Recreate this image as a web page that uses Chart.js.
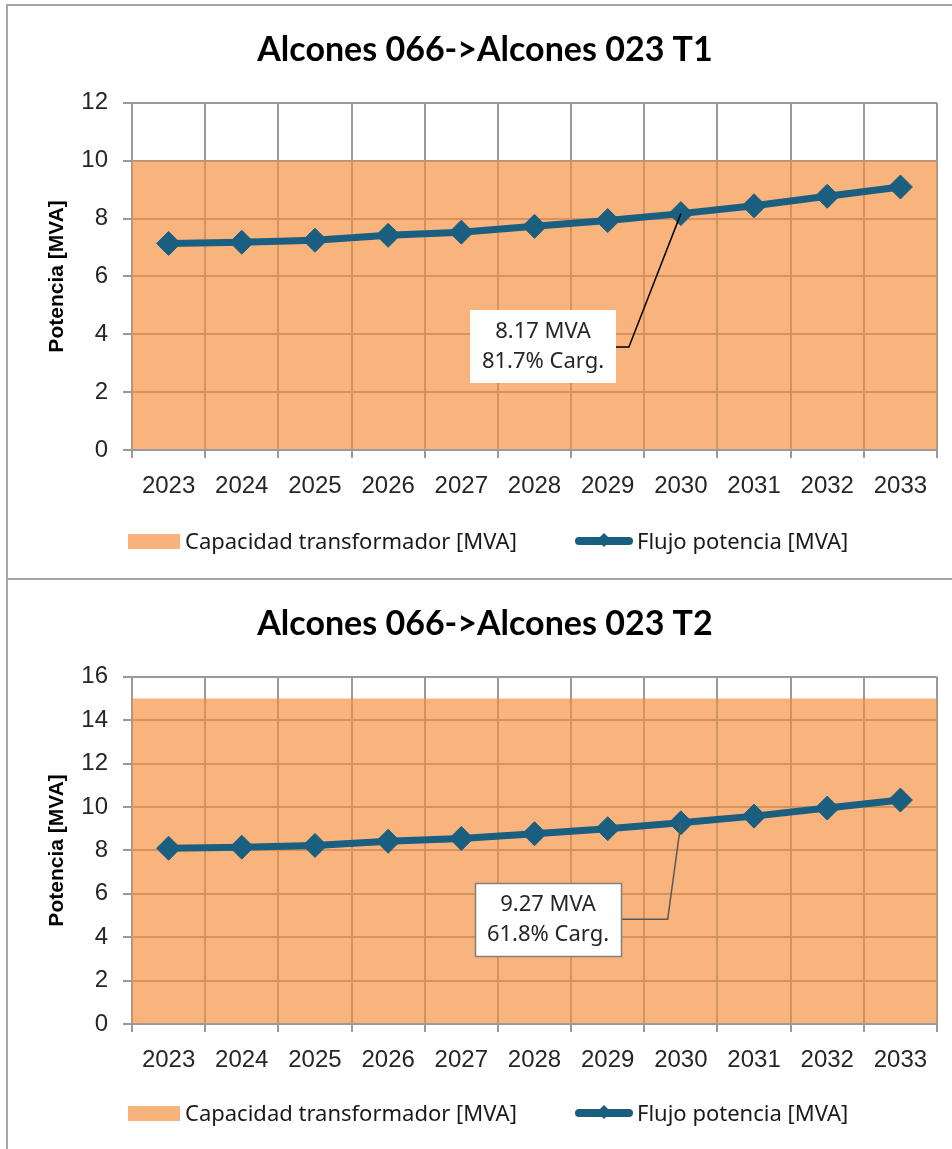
<!DOCTYPE html>
<html>
<head>
<meta charset="utf-8">
<title>Alcones 066->Alcones 023</title>
<script src="https://cdn.jsdelivr.net/npm/chart.js@4.4.1/dist/chart.umd.min.js"></script>
<style>
  html, body { margin: 0; padding: 0; background: #fff; width: 952px; height: 1149px; overflow: hidden; }
  .panel { position: absolute; left: 6px; width: 1000px; height: 572px; border: 2px solid #a6a6a6; background: #fff; overflow: hidden; }
  #panel1 { top: 4px; }
  #panel2 { top: 580px; border-top: none; }
  .panel canvas { position: absolute; left: 0; top: 0; }
  .lg-item { position: absolute; font: 22px "Noto Sans", sans-serif; color: #1a1a1a; white-space: nowrap; line-height: 30px; height: 30px; }
  .sw-bar { position: absolute; width: 52px; height: 15px; background: #f8b37c; }
  .sw-line { position: absolute; width: 58px; height: 8px; border-radius: 4px; background: #1a5e80; }
  .sw-line i { position: absolute; left: 24px; top: -2px; width: 10px; height: 10px; background: #1a5e80; transform: rotate(45deg); }
</style>
</head>
<body>
<div class="panel" id="panel1"><canvas id="chartT1" width="944" height="572"></canvas></div>
<div class="panel" id="panel2"><canvas id="chartT2" width="944" height="572"></canvas></div>
<script>
(function () {
  // ---------- data ----------
  const YEARS = ["2023", "2024", "2025", "2026", "2027", "2028", "2029", "2030", "2031", "2032", "2033"];

  const FLOW_T1 = [7.14, 7.18, 7.25, 7.42, 7.53, 7.73, 7.93, 8.17, 8.44, 8.77, 9.09];
  const CAP_T1 = [10, 10, 10, 10, 10, 10, 10, 10, 10, 10, 10];
  const Y_TICKS_T1 = [0, 2, 4, 6, 8, 10, 12];

  const FLOW_T2 = [8.10, 8.15, 8.23, 8.42, 8.55, 8.77, 9.00, 9.27, 9.58, 9.95, 10.32];
  const CAP_T2 = [15, 15, 15, 15, 15, 15, 15, 15, 15, 15, 15];
  const Y_TICKS_T2 = [0, 2, 4, 6, 8, 10, 12, 14, 16];

  const TITLE_T1 = "Alcones 066->Alcones 023 T1";
  const TITLE_T2 = "Alcones 066->Alcones 023 T2";
  const CAP_LABEL = "Capacidad transformador [MVA]";
  const FLOW_LABEL = "Flujo potencia [MVA]";
  const Y_TITLE = "Potencia [MVA]";

  // ---------- styles ----------
  const LINE_COLOR = "#1a5e80";
  const AREA_COLOR = "rgba(245,143,60,0.67)";
  const GRID_COLOR = "#9a9a9a";
  const TICK_FONT = { family: "'Liberation Sans', Arial, sans-serif", size: 24 };

  // callout box: value label with leader line to one point
  const calloutPlugin = {
    id: "callout",
    afterDatasetsDraw(chart, args, opts) {
      if (!opts || opts.index == null) return;
      const ctx = chart.ctx;
      const xs = chart.scales.x;
      const ys = chart.scales.y;
      const flow = chart.data.datasets[0].data;
      const cap = chart.data.datasets[1].data;
      const v = flow[opts.index];
      const lines = [
        v.toFixed(2) + " MVA",
        ((v / cap[opts.index]) * 100).toFixed(1) + "% Carg.",
      ];
      const px = xs.getPixelForValue(opts.index);
      const py = ys.getPixelForValue(v);
      const cx = xs.getPixelForValue(opts.boxX);
      const cy = ys.getPixelForValue(opts.boxY);
      const ex = xs.getPixelForValue(opts.elbowX);

      ctx.save();
      ctx.font = "22px 'Noto Sans', sans-serif";
      const tw = Math.max(...lines.map((t) => ctx.measureText(t).width));
      const w = Math.round(tw + 24);
      const lh = 30;
      const h = lh * 2 + 13;
      const left = Math.round(cx - w / 2);
      const top = Math.round(cy - h / 2);

      ctx.strokeStyle = opts.lineColor;
      ctx.lineWidth = 1.5;
      ctx.beginPath();
      ctx.moveTo(left + w, cy);
      ctx.lineTo(ex, cy);
      ctx.lineTo(px, py);
      ctx.stroke();

      ctx.fillStyle = "#fff";
      ctx.fillRect(left, top, w, h);
      if (opts.border) {
        ctx.strokeStyle = "#7f7f7f";
        ctx.lineWidth = 1.5;
        ctx.strokeRect(left + 0.5, top + 0.5, w, h);
      }
      ctx.fillStyle = "#262626";
      ctx.textAlign = "center";
      ctx.textBaseline = "middle";
      ctx.fillText(lines[0], left + w / 2, top + h / 2 - lh / 2);
      ctx.fillText(lines[1], left + w / 2, top + h / 2 + lh / 2);
      ctx.restore();
    },
  };

  function makeChart(canvasId, title, flow, cap, yTicks, callout) {
    const canvas = document.getElementById(canvasId);
    return new Chart(canvas, {
      type: "bar",
      data: {
        labels: YEARS,
        datasets: [
          {
            type: "line",
            label: FLOW_LABEL,
            data: flow,
            borderColor: LINE_COLOR,
            backgroundColor: LINE_COLOR,
            borderWidth: 7,
            pointStyle: "rectRot",
            pointRadius: 12,
            pointBorderWidth: 1,
            pointBackgroundColor: LINE_COLOR,
            pointBorderColor: LINE_COLOR,
            tension: 0,
            fill: false,
            order: 0,
          },
          {
            type: "bar",
            label: CAP_LABEL,
            data: cap,
            backgroundColor: AREA_COLOR,
            borderWidth: 0,
            categoryPercentage: 1,
            barPercentage: 1,
            inflateAmount: 0,
            order: 1,
          },
        ],
      },
      options: {
        responsive: false,
        animation: false,
        events: [],
        layout: { padding: { top: 0, left: 25, right: 15, bottom: 68 } },
        scales: {
          x: {
            offset: true,
            afterFit: function (s) { s.height = 60; },
            grid: {
              offset: true,
              color: GRID_COLOR,
              lineWidth: 2,
              drawTicks: true,
              tickLength: 8,
            },
            border: { color: GRID_COLOR, width: 2 },
            ticks: { color: "#262626", font: TICK_FONT, padding: 14, maxRotation: 0 },
          },
          y: {
            min: yTicks[0],
            max: yTicks[yTicks.length - 1],
            afterFit: function (s) { s.width = 99; },
            grid: { color: GRID_COLOR, lineWidth: 2, tickLength: 9 },
            border: { color: GRID_COLOR, width: 2 },
            ticks: {
              stepSize: yTicks[1] - yTicks[0],
              color: "#262626",
              font: TICK_FONT,
              padding: 15,
            },
            title: {
              display: true,
              text: Y_TITLE,
              color: "#000",
              font: { family: "'Liberation Sans', Arial, sans-serif", size: 21, weight: "bold" },
              padding: { top: 12, bottom: 0 },
            },
          },
        },
        plugins: {
          legend: { display: false },
          tooltip: { enabled: false },
          title: {
            display: true,
            text: title,
            color: "#000",
            font: { family: "Lato, 'Open Sans', sans-serif", size: 34, weight: "bold" },
            padding: { top: 24, bottom: 32 },
          },
          callout: callout,
        },
      },
      plugins: [calloutPlugin],
    });
  }

  function addLegend(panelId, top) {
    const panel = document.getElementById(panelId);
    const bar = document.createElement("span");
    bar.className = "sw-bar";
    bar.style.left = "120px";
    bar.style.top = top - 7 + "px";
    panel.appendChild(bar);

    const t1 = document.createElement("span");
    t1.className = "lg-item";
    t1.style.left = "177px";
    t1.style.top = top - 16 + "px";
    t1.textContent = CAP_LABEL;
    panel.appendChild(t1);

    const line = document.createElement("span");
    line.className = "sw-line";
    line.style.left = "567px";
    line.style.top = top - 4 + "px";
    line.appendChild(document.createElement("i"));
    panel.appendChild(line);

    const t2 = document.createElement("span");
    t2.className = "lg-item";
    t2.style.left = "629px";
    t2.style.top = top - 16 + "px";
    t2.textContent = FLOW_LABEL;
    panel.appendChild(t2);
  }

  makeChart("chartT1", TITLE_T1, FLOW_T1, CAP_T1, Y_TICKS_T1, {
    index: 7, boxX: 5.12, boxY: 3.56, elbowX: 6.29, border: false, lineColor: "#000",
  });
  makeChart("chartT2", TITLE_T2, FLOW_T2, CAP_T2, Y_TICKS_T2, {
    index: 7, boxX: 5.18, boxY: 4.83, elbowX: 6.82, border: true, lineColor: "#595959",
  });
  addLegend("panel1", 535);
  addLegend("panel2", 533);
})();
</script>
</body>
</html>
